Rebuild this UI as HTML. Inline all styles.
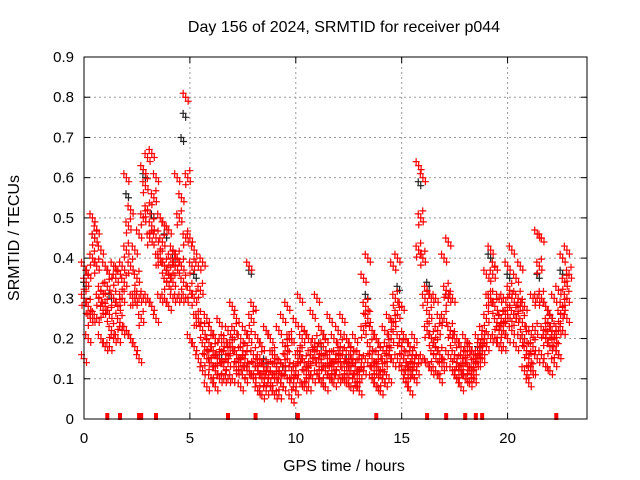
<!DOCTYPE html>
<html><head><meta charset="utf-8"><style>
html,body{margin:0;padding:0;background:#fff}
svg{display:block;font-family:"Liberation Sans",sans-serif}
</style></head><body>
<svg id="chart" width="640" height="480">
<text x="344" y="32" font-size="16" text-anchor="middle">Day 156 of 2024, SRMTID for receiver p044</text>
<text transform="translate(19,238) rotate(-90)" font-size="16" text-anchor="middle">SRMTID / TECUs</text>
<text x="344" y="471" font-size="16" text-anchor="middle">GPS time / hours</text>
<g id="grid"></g><g id="ticks"></g><g id="marks"></g>
<rect x="84" y="57" width="503" height="362" fill="none" stroke="#000" stroke-width="1"/>
</svg>
<script>
const xTicks=[0,5,10,15,20];
const yTicks=[0,0.1,0.2,0.3,0.4,0.5,0.6,0.7,0.8,0.9];
const yTickLabels=["0","0.1","0.2","0.3","0.4","0.5","0.6","0.7","0.8","0.9"];
const times=[0,0.2,0.4,0.6,0.8,1,1.2,1.4,1.6,1.8,2,2.2,2.4,2.6,2.8,3,3.2,3.4,3.6,3.8,4,4.2,4.4,4.6,4.8,5,5.2,5.4,5.6,5.8,6,6.2,6.4,6.6,6.8,7,7.2,7.4,7.6,7.8,8,8.2,8.4,8.6,8.8,9,9.2,9.4,9.6,9.8,10,10.2,10.4,10.6,10.8,11,11.2,11.4,11.6,11.8,12,12.2,12.4,12.6,12.8,13,13.2,13.4,13.6,13.8,14,14.2,14.4,14.6,14.8,15,15.2,15.4,15.6,15.8,16,16.2,16.4,16.6,16.8,17,17.2,17.4,17.6,17.8,18,18.2,18.4,18.6,18.8,19,19.2,19.4,19.6,19.8,20,20.2,20.4,20.6,20.8,21,21.2,21.4,21.6,21.8,22,22.2,22.4,22.6,22.8];
const redHi=[0.38,0.36,0.5,0.47,0.42,0.38,0.36,0.38,0.37,0.38,
0.6,0.52,0.42,0.46,0.62,0.65,0.66,0.6,0.5,0.48,
0.47,0.42,0.6,0.55,0.8,0.45,0.42,0.38,0.39,0.25,
0.22,0.2,0.24,0.2,0.22,0.28,0.25,0.2,0.22,0.38,
0.28,0.2,0.18,0.22,0.2,0.16,0.22,0.25,0.28,0.2,
0.24,0.3,0.22,0.2,0.26,0.3,0.22,0.2,0.25,0.2,
0.22,0.25,0.2,0.18,0.2,0.16,0.35,0.4,0.22,0.2,
0.18,0.22,0.25,0.38,0.4,0.28,0.2,0.18,0.2,0.63,
0.6,0.32,0.3,0.3,0.25,0.4,0.44,0.3,0.2,0.18,
0.2,0.18,0.16,0.2,0.22,0.36,0.42,0.38,0.3,0.3,
0.38,0.42,0.35,0.38,0.28,0.22,0.3,0.46,0.45,0.28,
0.26,0.3,0.32,0.4,0.42];
const redMid=[0.3,0.28,0.4,0.38,0.32,0.28,0.26,0.3,0.28,0.3,
0.42,0.38,0.3,0.3,0.5,0.52,0.48,0.45,0.4,0.38,
0.36,0.34,0.4,0.38,0.45,0.32,0.3,0.25,0.22,0.15,
0.14,0.12,0.15,0.13,0.14,0.18,0.16,0.14,0.15,0.2,
0.16,0.12,0.1,0.12,0.12,0.1,0.12,0.13,0.15,0.12,
0.12,0.16,0.14,0.12,0.15,0.17,0.14,0.12,0.15,0.13,
0.14,0.16,0.13,0.12,0.13,0.11,0.22,0.25,0.15,0.13,
0.12,0.14,0.16,0.24,0.26,0.18,0.14,0.12,0.14,0.42,
0.4,0.22,0.2,0.18,0.16,0.25,0.3,0.2,0.14,0.12,
0.14,0.13,0.12,0.16,0.17,0.25,0.3,0.28,0.22,0.22,
0.26,0.3,0.25,0.28,0.2,0.15,0.18,0.3,0.3,0.2,
0.18,0.2,0.22,0.28,0.3];
const redLo=[0.15,0.2,0.25,0.25,0.2,0.18,0.18,0.2,0.2,0.22,
0.22,0.2,0.18,0.15,0.3,0.3,0.28,0.25,0.3,0.3,
0.28,0.3,0.3,0.3,0.3,0.2,0.18,0.15,0.12,0.08,
0.1,0.08,0.1,0.1,0.1,0.1,0.12,0.08,0.1,0.12,
0.1,0.07,0.06,0.07,0.08,0.06,0.06,0.08,0.1,0.05,
0.07,0.09,0.08,0.08,0.1,0.11,0.09,0.08,0.1,0.09,
0.1,0.1,0.09,0.08,0.09,0.07,0.12,0.14,0.1,0.08,
0.07,0.09,0.1,0.14,0.15,0.12,0.09,0.07,0.1,0.15,
0.15,0.14,0.12,0.12,0.1,0.14,0.16,0.12,0.1,0.08,
0.1,0.09,0.1,0.14,0.15,0.18,0.2,0.2,0.18,0.18,
0.2,0.22,0.18,0.2,0.12,0.09,0.12,0.15,0.16,0.13,
0.12,0.14,0.16,0.22,0.25];
const redAlt=[0.34,0.25,0.45,0.3,0.27,0.33,0.22,0.35,0.24,0.34,
0.48,0.3,0.35,0.25,0.58,0.45,0.55,0.4,0.44,0.34,
0.4,0.38,0.5,0.34,0.6,0.38,0.25,0.32,0.18,0.19,
0.17,0.15,0.19,0.16,0.18,0.22,0.13,0.17,0.12,0.25,
0.13,0.15,0.13,0.1,0.16,0.13,0.09,0.18,0.2,0.09,
0.15,0.2,0.11,0.16,0.19,0.13,0.18,0.15,0.12,0.16,
0.18,0.12,0.16,0.15,0.1,0.14,0.28,0.18,0.12,0.16,
0.1,0.18,0.2,0.3,0.2,0.15,0.11,0.16,0.12,0.5,
0.3,0.26,0.16,0.22,0.13,0.32,0.22,0.16,0.12,0.15,
0.17,0.11,0.14,0.18,0.2,0.3,0.36,0.24,0.25,0.26,
0.32,0.26,0.3,0.24,0.17,0.12,0.22,0.38,0.22,0.24,
0.22,0.17,0.26,0.34,0.36];
const altTimes=[0.1,0.3,0.5,0.7,0.9,1.1,1.3,1.5,1.7,1.9,2.1,2.3,2.5,2.7,2.9,3.1,3.3,3.5,3.7,3.9,4.1,4.3,4.5,4.7,4.9,5.1,5.3,5.5,5.7,5.9,6.1,6.3,6.5,6.7,6.9,7.1,7.3,7.5,7.7,7.9,8.1,8.3,8.5,8.7,8.9,9.1,9.3,9.5,9.7,9.9,10.1,10.3,10.5,10.7,10.9,11.1,11.3,11.5,11.7,11.9,12.1,12.3,12.5,12.7,12.9,13.1,13.3,13.5,13.7,13.9,14.1,14.3,14.5,14.7,14.9,15.1,15.3,15.5,15.7,15.9,16.1,16.3,16.5,16.7,16.9,17.1,17.3,17.5,17.7,17.9,18.1,18.3,18.5,18.7,18.9,19.1,19.3,19.5,19.7,19.9,20.1,20.3,20.5,20.7,20.9,21.1,21.3,21.5,21.7,21.9,22.1,22.3,22.5,22.7,22.9];
const blackT=[0.1,0.5,1.3,2.1,2.9,3.3,3.9,4.3,4.7,4.8,5.3,6.5,7.9,8.6,9.5,10.3,11.2,12.5,13.4,14.9,15.9,16.3,17.2,18.7,19.2,20.1,20.8,21.5,22.1,22.6];
const blackV=[0.33,0.45,0.3,0.55,0.6,0.5,0.45,0.4,0.69,0.75,0.35,0.15,0.36,0.14,0.12,0.15,0.18,0.14,0.3,0.32,0.58,0.33,0.3,0.17,0.4,0.35,0.2,0.35,0.25,0.36];
const zeroT=[1.1,1.7,2.6,2.7,3.4,6.8,8.1,10.1,13.8,16.2,17.1,18.0,18.5,18.8,22.3];

const L=84,R=587,T=57,B=419,XMAX=23.75,YMAX=0.9;
const xs=v=>L+v/XMAX*(R-L), ys=v=>B-v/YMAX*(B-T);
const NS="http://www.w3.org/2000/svg";
const grid=document.getElementById('grid'),ticks=document.getElementById('ticks'),marks=document.getElementById('marks');
function mk(tag,a,p){const e=document.createElementNS(NS,tag);for(const k in a)e.setAttribute(k,a[k]);p.appendChild(e);return e;}
yTicks.forEach((v,i)=>{
  const y=ys(v);
  if(i>0&&i<yTicks.length-1){const g=mk('line',{x1:L,x2:R,y1:y,y2:y,stroke:'#999','stroke-dasharray':'2,3'},grid);
  
  }
  const t=mk('line',{x1:L,x2:L+6,y1:y,y2:y,stroke:'#000'},ticks);
  
  
  const t2=mk('line',{x1:R-6,x2:R,y1:y,y2:y,stroke:'#000'},ticks);
  
  
  const lb=mk('text',{x:L-10,y:y+5,'font-size':15,'text-anchor':'end'},ticks);lb.textContent=yTickLabels[i];
  
  
});
xTicks.forEach(v=>{
  const x=xs(v);
  if(v>0){const g=mk('line',{x1:x,x2:x,y1:T,y2:B,stroke:'#999','stroke-dasharray':'2,3'},grid);
  
  }
  const t=mk('line',{x1:x,x2:x,y1:B,y2:B-6,stroke:'#000'},ticks);
  
  
  const t2=mk('line',{x1:x,x2:x,y1:T,y2:T+6,stroke:'#000'},ticks);
  
  
  const lb=mk('text',{x:x,y:B+24,'font-size':15,'text-anchor':'middle'},ticks);lb.textContent=String(v);
  
  
});
const CLUSTER=[[0,0],[-2.5,-4],[2.5,4],[2,-7],[-2,7]];
function plus(t,v,c,name,n){
  const x=xs(t),y=ys(v);let d='';
  for(let k=0;k<n;k++){const cx=x+CLUSTER[k][0],cy=y+CLUSTER[k][1];d+=`M${cx-3.5},${cy}h7M${cx},${cy-3.5}v7`;}
  const p=mk('path',{d:d,stroke:c,'stroke-width':1.2,fill:'none'},marks);
  
  
}
blackT.forEach((t,i)=>plus(t,blackV[i],'#222','black-point',2));
times.forEach((t,i)=>{plus(t,redHi[i],'#f00','red-point',3);plus(t,redMid[i],'#f00','red-point',5);plus(t,redLo[i],'#f00','red-point',3);});
altTimes.forEach((t,i)=>plus(t,redAlt[i],'#f00','red-point',5));
zeroT.forEach(t=>{const x=xs(t);
  const z=mk('rect',{x:x-2,y:B-6,width:4,height:7,fill:'#f00'},marks);
  
  });
</script>
</body></html>
